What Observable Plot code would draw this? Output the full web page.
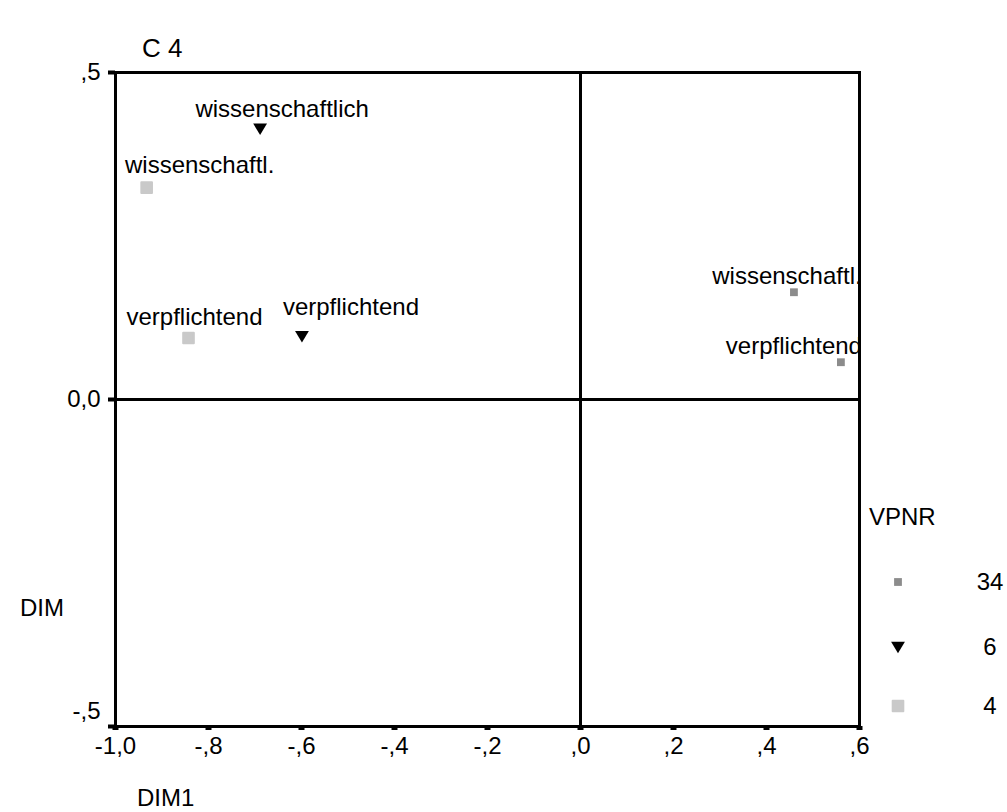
<!DOCTYPE html>
<html>
<head>
<meta charset="utf-8">
<script src="https://cdn.jsdelivr.net/npm/d3@7"></script>
<script src="https://cdn.jsdelivr.net/npm/@observablehq/plot@0.6"></script>
<style>
  html, body { margin: 0; padding: 0; background: #fff; }
  #wrap { position: relative; width: 1007px; height: 812px; font-family: "Liberation Sans", Arial, sans-serif; color: #000; }
  .lbl { position: absolute; font-size: 24px; line-height: 1; white-space: nowrap; }
  #chart { position: absolute; left: 0; top: 0; }
</style>
</head>
<body>
<div id="wrap">
  <div id="chart"></div>
  <div class="lbl" style="left:142px; top:35px; font-size:26px;">C 4</div>
  <div class="lbl" style="left:20px; top:596px;">DIM</div>
  <div class="lbl" style="left:137px; top:786px;">DIM1</div>
  <div id="legend"></div>
</div>
<script>
// ---- data ----
const vpnr   = ["6", "6", "4", "4", "34", "34"];
const labels = ["wissenschaftlich", "verpflichtend", "wissenschaftl.", "verpflichtend", "wissenschaftl.", "verpflichtend"];
const dim1   = [-0.689, -0.599, -0.933, -0.843, 0.459, 0.560];
const dim2   = [0.414, 0.097, 0.324, 0.094, 0.164, 0.057];

const xTicks = [-1.0, -0.8, -0.6, -0.4, -0.2, 0.0, 0.2, 0.4, 0.6];
const xTickLabels = ["-1,0", "-,8", "-,6", "-,4", "-,2", ",0", ",2", ",4", ",6"];
const yTicks = [-0.5, 0.0, 0.5];
const yTickLabels = ["-,5", "0,0", ",5"];

const legendTitle = "VPNR";
const legendKeys = ["34", "6", "4"];

// ---- build ----
const data = vpnr.map((v, i) => ({vpnr: v, label: labels[i], x: dim1[i], y: dim2[i]}));
const fmt = (ticks, labs) => d => labs[ticks.findIndex(t => Math.abs(t - d) < 1e-9)];
const yFmt = fmt(yTicks, yTickLabels);

// custom symbols
const triDown = {draw(ctx, size) { const s = Math.sqrt(size); ctx.moveTo(-s*0.6, -s*0.45); ctx.lineTo(s*0.6, -s*0.45); ctx.lineTo(0, s*0.55); ctx.closePath(); }};
const sq = {draw(ctx, size) { const s = Math.sqrt(size)/2; ctx.rect(-s, -s, 2*s, 2*s); }};

const styles = {
  "34": {fill: "#8c8c8c", symbol: sq, r: 4.4, stroke: "none"},
  "6":  {fill: "#000000", symbol: triDown, r: 6.5, stroke: "none"},
  "4":  {fill: "#c9c9c9", symbol: sq, r: 6, stroke: "#c9c9c9"}
};

// per-label offsets (label centre relative to its point)
const offsets = [[22, -19], [49, -29], [53, -22], [6, -21], [-7, -16], [-47, -16]];

const font = "'Liberation Sans', Arial, sans-serif";

const marks = [
  Plot.ruleX([0], {stroke: "#000", strokeWidth: 3}),
  Plot.ruleY([0], {stroke: "#000", strokeWidth: 3}),
  ...legendKeys.map(k => Plot.dot(data.filter(d => d.vpnr === k), {
    x: "x", y: "y", symbol: styles[k].symbol, r: styles[k].r,
    fill: styles[k].fill, stroke: styles[k].stroke, strokeWidth: 2, strokeLinejoin: "round"
  })),
  ...data.map((d, i) => Plot.text([d], {
    x: "x", y: "y", text: "label", dx: offsets[i][0], dy: offsets[i][1],
    fontSize: 24, fill: "#000", textAnchor: "middle"
  })),
  Plot.axisX({ticks: xTicks, tickFormat: fmt(xTicks, xTickLabels), tickSize: 4, strokeWidth: 6,
    tickPadding: 6, fontSize: 24, label: null}),
  Plot.axisY({ticks: yTicks, tickFormat: () => "", tickSize: 7, strokeWidth: 4, label: null}),
  Plot.text(yTicks.filter(t => t > -0.5), {y: d => d, text: yFmt, frameAnchor: "left", dx: -15,
    textAnchor: "end", fontSize: 24, fill: "#000"}),
  Plot.text(yTicks.filter(t => t <= -0.5), {y: d => d, text: yFmt, frameAnchor: "left", dx: -15, dy: -15,
    textAnchor: "end", fontSize: 24, fill: "#000"}),
  Plot.frame({stroke: "#000", strokeWidth: 3})
];

const chart = Plot.plot({
  width: 1007, height: 812,
  marginLeft: 115, marginRight: 148, marginTop: 72, marginBottom: 86,
  x: {domain: [-1.0, 0.6], axis: null},
  y: {domain: [-0.5, 0.5], axis: null},
  style: {fontFamily: font, fontSize: "24px", color: "#000", background: "#fff"},
  marks
});
document.getElementById("chart").appendChild(chart);

// legend (HTML + inline SVG symbols)
const leg = document.getElementById("legend");
leg.innerHTML = `<div class="lbl" style="left:869px; top:505px;">${legendTitle}</div>`;
const rowsY = [582, 647, 706];
legendKeys.forEach((k, i) => {
  const st = styles[k];
  const svg = d3.create("svg").attr("width", 24).attr("height", 24)
    .style("position", "absolute").style("left", "886px").style("top", (rowsY[i] - 12) + "px");
  const p = d3.path();
  st.symbol.draw(p, Math.PI * st.r * st.r);
  svg.append("path").attr("transform", "translate(12,12)").attr("d", p.toString())
    .attr("fill", st.fill).attr("stroke", st.stroke).attr("stroke-width", 2).attr("stroke-linejoin", "round");
  leg.appendChild(svg.node());
  const t = document.createElement("div");
  t.className = "lbl";
  t.style.left = "960px"; t.style.width = "60px"; t.style.textAlign = "center";
  t.style.top = (rowsY[i] - 12) + "px";
  t.textContent = k;
  leg.appendChild(t);
});
</script>
</body>
</html>
